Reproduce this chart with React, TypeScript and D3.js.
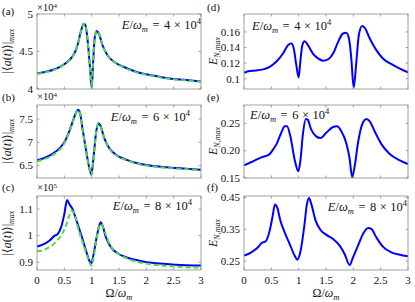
import React from "react";
import * as d3 from "d3";

// panel (a): |<a(t)>|max, E/wm = 4e4 (units of 1e4)
const xA = [0, 0.165, 0.35, 0.5, 0.59, 0.68, 0.74, 0.8, 0.855, 0.88, 0.915, 0.945, 0.976, 1.0, 1.024, 1.055, 1.09, 1.13, 1.2, 1.29, 1.415, 1.57, 1.81, 2.12, 2.42, 2.73, 3];
const yA = [4.208, 4.23, 4.27, 4.33, 4.385, 4.47, 4.58, 4.76, 4.87, 4.86, 4.72, 4.5, 4.23, 4.02, 4.32, 4.68, 4.775, 4.74, 4.58, 4.45, 4.36, 4.3, 4.23, 4.18, 4.14, 4.12, 4.1];
const yA2 = [4.2, 4.225, 4.265, 4.325, 4.38, 4.47, 4.58, 4.76, 4.87, 4.86, 4.72, 4.5, 4.23, 4.02, 4.32, 4.68, 4.775, 4.74, 4.58, 4.45, 4.36, 4.295, 4.225, 4.175, 4.135, 4.115, 4.095];

// panel (b): E/wm = 6e4 (units of 1e4)
const xB = [0, 0.165, 0.29, 0.42, 0.5, 0.59, 0.665, 0.713, 0.75, 0.787, 0.835, 0.896, 0.957, 0.994, 1.03, 1.08, 1.12, 1.16, 1.23, 1.32, 1.445, 1.63, 1.87, 2.18, 2.54, 3];
const yB = [6.614, 6.68, 6.757, 6.88, 7.0, 7.236, 7.486, 7.64, 7.7, 7.63, 7.27, 6.84, 6.45, 6.31, 6.63, 7.2, 7.41, 7.36, 7.09, 6.88, 6.736, 6.63, 6.54, 6.486, 6.45, 6.414];
const yB2 = [6.59, 6.655, 6.73, 6.85, 6.98, 7.22, 7.47, 7.63, 7.69, 7.62, 7.26, 6.83, 6.44, 6.3, 6.62, 7.19, 7.4, 7.35, 7.08, 6.87, 6.725, 6.62, 6.53, 6.476, 6.44, 6.404];

// panel (c): E/wm = 8e4 (units of 1e5)
const xC = [0, 0.104, 0.226, 0.317, 0.378, 0.44, 0.5, 0.549, 0.59, 0.65, 0.713, 0.805, 0.896, 0.957, 0.994, 1.03, 1.08, 1.13, 1.165, 1.2, 1.26, 1.354, 1.475, 1.63, 1.87, 2.18, 2.54, 3];
const yC = [0.959, 0.966, 0.981, 0.999, 1.006, 1.031, 1.081, 1.134, 1.119, 1.1, 1.0625, 1.006, 0.944, 0.906, 0.896, 0.925, 0.981, 1.031, 1.05, 1.0375, 0.994, 0.956, 0.934, 0.919, 0.906, 0.896, 0.891, 0.8875];
const xC2 = [0, 0.165, 0.317, 0.44, 0.53, 0.59, 0.634, 0.68, 0.74, 0.835, 0.927, 0.994, 1.03, 1.09, 1.14, 1.177, 1.23, 1.32, 1.475, 1.63, 1.87, 2.18, 2.54, 3];
const yC2 = [0.941, 0.95, 0.971, 1.0, 1.0375, 1.075, 1.094, 1.084, 1.0375, 0.975, 0.919, 0.8875, 0.9125, 0.9875, 1.0375, 1.044, 1.019, 0.971, 0.934, 0.916, 0.9, 0.89, 0.884, 0.879];

// panel (d): E_N,max, E/wm = 4e4
const xD = [0, 0.104, 0.226, 0.35, 0.47, 0.59, 0.713, 0.805, 0.866, 0.91, 0.957, 1.0, 1.03, 1.067, 1.11, 1.17, 1.26, 1.354, 1.445, 1.537, 1.63, 1.72, 1.81, 1.87, 1.92, 1.963, 2.006, 2.055, 2.1, 2.16, 2.21, 2.3, 2.42, 2.54, 2.73, 3];
const yD = [0.1077, 0.11, 0.1106, 0.112, 0.1153, 0.1217, 0.1323, 0.143, 0.1451, 0.1387, 0.1174, 0.1017, 0.1217, 0.143, 0.148, 0.143, 0.1323, 0.126, 0.123, 0.1247, 0.1323, 0.147, 0.158, 0.1591, 0.1515, 0.126, 0.0885, 0.1217, 0.1557, 0.1677, 0.1651, 0.1515, 0.1366, 0.126, 0.1174, 0.1081];

// panel (e): E/wm = 6e4
const xE = [0, 0.165, 0.317, 0.457, 0.53, 0.59, 0.68, 0.744, 0.787, 0.848, 0.927, 0.994, 1.03, 1.08, 1.13, 1.165, 1.23, 1.32, 1.4, 1.5, 1.63, 1.7, 1.78, 1.87, 1.93, 1.98, 2.024, 2.085, 2.16, 2.24, 2.3, 2.39, 2.52, 2.66, 2.85, 3];
const yE = [0.1732, 0.1805, 0.1878, 0.1927, 0.2018, 0.211, 0.2323, 0.2445, 0.2445, 0.2262, 0.1835, 0.1622, 0.1805, 0.2323, 0.258, 0.2567, 0.2384, 0.2262, 0.2232, 0.2323, 0.2433, 0.2445, 0.2354, 0.214, 0.1866, 0.1515, 0.1713, 0.214, 0.2476, 0.258, 0.2537, 0.2354, 0.211, 0.1945, 0.1823, 0.1756];

// panel (f): E/wm = 8e4
const xF = [0, 0.134, 0.256, 0.317, 0.396, 0.47, 0.52, 0.567, 0.61, 0.665, 0.744, 0.835, 0.927, 0.976, 1.03, 1.1, 1.152, 1.19, 1.23, 1.31, 1.4, 1.5, 1.63, 1.75, 1.84, 1.933, 1.994, 2.085, 2.177, 2.27, 2.33, 2.42, 2.54, 2.695, 2.85, 3];
const yF = [0.2668, 0.2774, 0.2932, 0.3058, 0.3121, 0.3458, 0.3879, 0.4279, 0.4174, 0.3774, 0.3405, 0.3037, 0.2668, 0.2542, 0.2774, 0.3563, 0.43, 0.449, 0.43, 0.3774, 0.3479, 0.3332, 0.3195, 0.2984, 0.2721, 0.2374, 0.2616, 0.2984, 0.3353, 0.3542, 0.351, 0.3247, 0.2953, 0.2774, 0.27, 0.2647];

const xTicks = [0, 0.5, 1, 1.5, 2, 2.5, 3];
const xTickLabels = ["0", "0.5", "1", "1.5", "2", "2.5", "3"];

const FONT = "'Liberation Serif', 'DejaVu Serif', serif";
const BLUE = "#0000ff";
const GREEN = "#4ddc3a";
const BOX = "#8a8a8a";

const cols = [[37, 201], [244, 408]];
const rows = [[14, 89], [105, 178], [196, 270]];

const Title = ({ n, x, y, anchor }) => (
  <text x={x} y={y} textAnchor={anchor} fontFamily={FONT} fontSize={12.5} fill="#111">
    <tspan fontStyle="italic">E</tspan>/<tspan fontStyle="italic">ω</tspan>
    <tspan fontStyle="italic" fontSize={8.5} dy={2.5}>m</tspan>
    <tspan dy={-2.5} dx={4.5}>=</tspan>
    <tspan dx={4.5}>{n}</tspan>
    <tspan dx={3.5}>×</tspan>
    <tspan dx={3.5}>10</tspan>
    <tspan fontSize={8.5} dy={-5}>4</tspan>
  </text>
);

const Panel = ({ col, row, domain, yTicks, yLabels, series, showX, title }) => {
  const [x0, x1] = cols[col];
  const [y0, y1] = rows[row];
  const xs = d3.scaleLinear().domain([0, 3]).range([x0, x1]);
  const ys = d3.scaleLinear().domain(domain).range([y1, y0]);
  const tl = 2.5;
  return (
    <g>
      <defs>
        <clipPath id={`clip-${col}-${row}`}>
          <rect x={x0} y={y0 - 1} width={x1 - x0} height={y1 - y0 + 2} />
        </clipPath>
      </defs>
      <rect x={x0} y={y0} width={x1 - x0} height={y1 - y0} fill="white" />
      <g clipPath={`url(#clip-${col}-${row})`}>
        {series.map((s, i) => {
          const line = d3
            .line<number>()
            .x((_, j) => xs(s.x[j]))
            .y((d) => ys(d))
            .curve(d3.curveMonotoneX);
          return (
            <path
              key={i}
              d={line(s.y) || ""}
              fill="none"
              stroke={s.color}
              strokeWidth={2}
              strokeDasharray={s.dash ? "5,3" : undefined}
              strokeLinejoin="round"
            />
          );
        })}
      </g>
      <rect x={x0} y={y0} width={x1 - x0} height={y1 - y0} fill="none" stroke={BOX} strokeWidth={0.8} />
      {xTicks.map((t, i) => (
        <g key={i}>
          <line x1={xs(t)} x2={xs(t)} y1={y1} y2={y1 - tl} stroke={BOX} strokeWidth={0.8} />
          <line x1={xs(t)} x2={xs(t)} y1={y0} y2={y0 + tl} stroke={BOX} strokeWidth={0.8} />
          {showX && (
            <text x={xs(t)} y={y1 + 14} textAnchor="middle" fontFamily={FONT} fontSize={11} fill="#111">
              {xTickLabels[i]}
            </text>
          )}
        </g>
      ))}
      {yTicks.map((t, i) => (
        <g key={i}>
          <line x1={x0} x2={x0 + tl} y1={ys(t)} y2={ys(t)} stroke={BOX} strokeWidth={0.8} />
          <line x1={x1} x2={x1 - tl} y1={ys(t)} y2={ys(t)} stroke={BOX} strokeWidth={0.8} />
          <text x={x0 - 4} y={ys(t) + 3.8} textAnchor="end" fontFamily={FONT} fontSize={11} fill="#111">
            {yLabels[i]}
          </text>
        </g>
      ))}
      {showX && (
        <text x={(x0 + x1) / 2} y={y1 + 27} textAnchor="middle" fontFamily={FONT} fontSize={12} fill="#111">
          Ω/<tspan fontStyle="italic">ω</tspan>
          <tspan fontStyle="italic" fontSize={8.5} dy={2.5}>m</tspan>
        </text>
      )}
      {title}
    </g>
  );
};

const LeftLabel = ({ cy }) => (
  <text transform={`translate(11,${cy}) rotate(-90)`} textAnchor="middle" fontFamily={FONT} fontSize={12} fill="#111">
    |⟨<tspan fontStyle="italic">a</tspan>(<tspan fontStyle="italic">t</tspan>)⟩|
    <tspan fontStyle="italic" fontSize={8} dy={3}>max</tspan>
  </text>
);

const RightLabel = ({ cy }) => (
  <text transform={`translate(217,${cy}) rotate(-90)`} textAnchor="middle" fontFamily={FONT} fontSize={12} fill="#111">
    <tspan fontStyle="italic">E</tspan>
    <tspan fontStyle="italic" fontSize={8} dy={3}>N,max</tspan>
  </text>
);

const Expo = ({ y, n }) => (
  <text x={37} y={y} fontFamily={FONT} fontSize={10.5} fill="#111">
    ×10<tspan fontSize={7} dy={-3.5}>{n}</tspan>
  </text>
);

const Letter = ({ x, y, s }) => (
  <text x={x} y={y} fontFamily={FONT} fontSize={11} fill="#111">
    {s}
  </text>
);

export default function App() {
  return (
    <svg width={415} height={302} style={{ position: "absolute", left: 0, top: 0, background: "white" }}>
      <Panel
        col={0}
        row={0}
        domain={[4, 5]}
        yTicks={[4, 4.5, 5]}
        yLabels={["4", "4.5", "5"]}
        series={[
          { x: xA, y: yA, color: BLUE },
          { x: xA, y: yA2, color: GREEN, dash: true },
        ]}
        title={<Title n={4} x={201} y={29} anchor="end" />}
      />
      <Panel
        col={0}
        row={1}
        domain={[6.236, 7.8]}
        yTicks={[6.5, 7, 7.5]}
        yLabels={["6.5", "7", "7.5"]}
        series={[
          { x: xB, y: yB, color: BLUE },
          { x: xB, y: yB2, color: GREEN, dash: true },
        ]}
        title={<Title n={6} x={190} y={121} anchor="end" />}
      />
      <Panel
        col={0}
        row={2}
        domain={[0.871, 1.149]}
        yTicks={[0.9, 1, 1.1]}
        yLabels={["0.9", "1", "1.1"]}
        series={[
          { x: xC, y: yC, color: BLUE },
          { x: xC2, y: yC2, color: GREEN, dash: true },
        ]}
        showX
        title={<Title n={8} x={192} y={210} anchor="end" />}
      />
      <Panel
        col={1}
        row={0}
        domain={[0.0868, 0.183]}
        yTicks={[0.1, 0.12, 0.14, 0.16]}
        yLabels={["0.1", "0.12", "0.14", "0.16"]}
        series={[{ x: xD, y: yD, color: BLUE }]}
        title={<Title n={4} x={252} y={30} anchor="start" />}
      />
      <Panel
        col={1}
        row={1}
        domain={[0.15, 0.2835]}
        yTicks={[0.15, 0.2, 0.25]}
        yLabels={["0.15", "0.20", "0.25"]}
        series={[{ x: xE, y: yE, color: BLUE }]}
        title={<Title n={6} x={250} y={119} anchor="start" />}
      />
      <Panel
        col={1}
        row={2}
        domain={[0.2216, 0.455]}
        yTicks={[0.25, 0.35, 0.45]}
        yLabels={["0.25", "0.35", "0.45"]}
        series={[{ x: xF, y: yF, color: BLUE }]}
        showX
        title={<Title n={8} x={407} y={211} anchor="end" />}
      />
      <LeftLabel cy={51} />
      <LeftLabel cy={141} />
      <LeftLabel cy={233} />
      <RightLabel cy={51} />
      <RightLabel cy={141} />
      <RightLabel cy={233} />
      <Expo y={11} n={4} />
      <Expo y={100} n={4} />
      <Expo y={191} n={5} />
      <Letter x={2} y={15} s="(a)" />
      <Letter x={2} y={101} s="(b)" />
      <Letter x={2} y={191} s="(c)" />
      <Letter x={207} y={11} s="(d)" />
      <Letter x={207} y={101} s="(e)" />
      <Letter x={207} y={191} s="(f)" />
    </svg>
  );
}
